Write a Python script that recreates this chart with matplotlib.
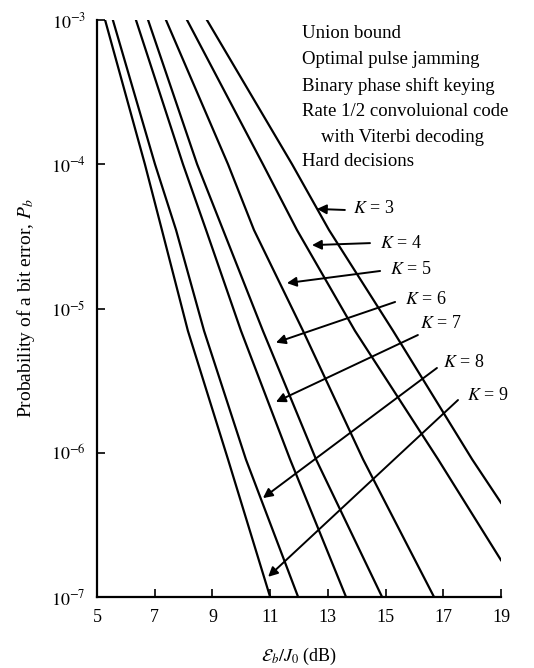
import numpy as np
import matplotlib.pyplot as plt

plt.rcParams['font.family'] = 'Liberation Serif'
plt.rcParams['mathtext.fontset'] = 'stix'

# curves: Eb/J0 (dB) at given Pb levels
pb_levels = [1e-3, 1e-4, 3.5e-5, 7e-6, 9e-7, 1e-7]
k9_db = [5.28, 6.66, 7.25, 8.15, 9.54, 11.00]
k8_db = [5.55, 7.01, 7.74, 8.71, 10.16, 11.97]
k7_db = [6.35, 7.98, 8.78, 9.99, 11.69, 13.63]
k6_db = [6.77, 8.47, 9.37, 10.75, 12.59, 14.88]
k5_db = [7.39, 9.54, 10.44, 12.14, 14.22, 16.68]
k4_pb = [1e-3, 1e-4, 3.5e-5, 7e-6, 9e-7, 1.8e-7]
k4_db = [8.12, 10.75, 11.93, 13.94, 16.82, 19.0]
k3_pb = [1e-3, 1e-4, 3.5e-5, 7e-6, 9e-7, 4.5e-7]
k3_db = [8.81, 11.76, 13.04, 15.26, 18.0, 19.0]

k_values = [3, 4, 5, 6, 7, 8, 9]
x_ticks = [5, 7, 9, 11, 13, 15, 17, 19]
notes = ['Union bound', 'Optimal pulse jamming', 'Binary phase shift keying',
         'Rate 1/2 convoluional code', '    with Viterbi decoding', 'Hard decisions']

# label arrows: tip, tail and text anchor (dB, Pb)
arrow_tip = [(12.62, 4.9e-5), (12.45, 2.75e-5), (11.58, 1.5e-5), (11.20, 5.8e-6),
             (11.20, 2.25e-6), (10.75, 4.85e-7), (10.93, 1.38e-7)]
arrow_tail = [(13.59, 4.82e-5), (14.46, 2.84e-5), (14.81, 1.82e-5), (15.33, 1.11e-5),
              (16.12, 6.55e-6), (16.78, 3.87e-6), (17.51, 2.32e-6)]
label_pos = [(13.87, 4.9e-5), (14.81, 2.84e-5), (15.15, 1.85e-5), (15.67, 1.15e-5),
             (16.19, 7.9e-6), (16.99, 4.2e-6), (17.82, 2.5e-6)]

fig = plt.figure(figsize=(5.34, 6.68), dpi=100)
ax = fig.add_axes([97 / 534, 1 - 597 / 668, 404 / 534, 577 / 668])

curves = [(k3_db, k3_pb), (k4_db, k4_pb), (k5_db, pb_levels), (k6_db, pb_levels),
          (k7_db, pb_levels), (k8_db, pb_levels), (k9_db, pb_levels)]
for xs, ys in curves:
    ax.plot(xs, ys, color='black', linewidth=1.6, solid_joinstyle='round')

for k, tip, tail, pos in zip(k_values, arrow_tip, arrow_tail, label_pos):
    ax.annotate('', xy=tip, xytext=tail,
                arrowprops=dict(arrowstyle='-|>', color='black', lw=1.4,
                                mutation_scale=14, shrinkA=0, shrinkB=0))
    ax.text(pos[0], pos[1], r'$K$ = %d' % k, fontsize=13, va='center', ha='left')

ax.set_yscale('log')
ax.set_xlim(5, 19)
ax.set_ylim(1e-7, 1e-3)
ax.set_xticks(x_ticks)
ax.set_xticklabels([str(t) for t in x_ticks])
ax.set_yticks([1e-7, 1e-6, 1e-5, 1e-4, 1e-3])
ax.set_yticklabels([r'$10^{-7}$', r'$10^{-6}$', r'$10^{-5}$', r'$10^{-4}$', r'$10^{-3}$'])
ax.minorticks_off()
ax.spines['top'].set_visible(False)
ax.spines['right'].set_visible(False)
ax.spines['left'].set_linewidth(1.6)
ax.spines['bottom'].set_linewidth(1.6)
ax.tick_params(axis='both', direction='in', length=6, width=1.2, labelsize=13)
ax.tick_params(axis='x', pad=9)
ax.tick_params(axis='y', pad=8)

ax.set_xlabel(r'$\mathcal{E}_b/J_0$ (dB)', fontsize=13, labelpad=14)
ax.set_ylabel(r'Probability of a bit error, $P_b$', fontsize=14, labelpad=10)

line_y = [33, 60, 86, 112, 137, 162]
for txt, py in zip(notes, line_y):
    fig.text(302 / 534, 1 - py / 668, txt, fontsize=13.5, va='center', ha='left')

fig.savefig('out.png', dpi=100)
